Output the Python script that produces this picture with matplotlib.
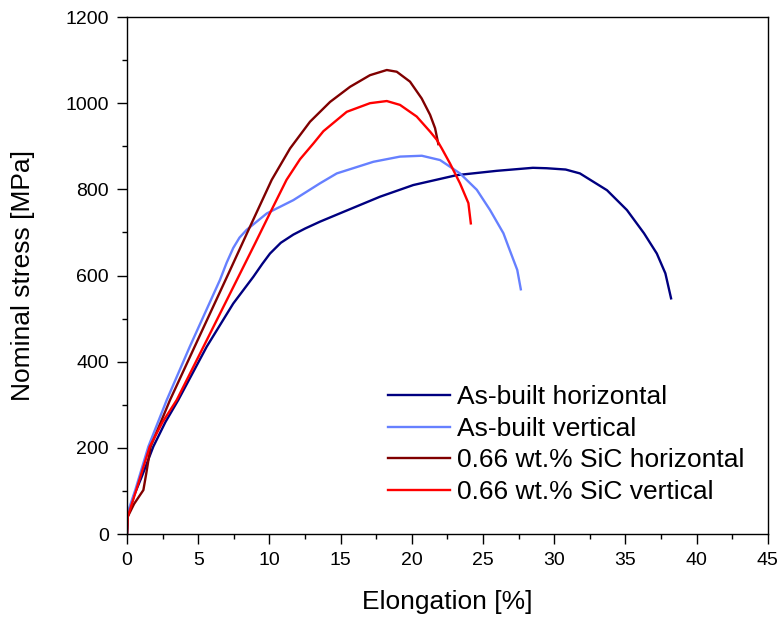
import matplotlib
matplotlib.use("Agg")
import matplotlib.pyplot as plt
from matplotlib.ticker import MultipleLocator

plt.rcParams['font.family'] = ['Liberation Sans', 'DejaVu Sans']

# As-built horizontal
ab_h_x = [0, 0.05, 0.5, 1, 1.85, 2.7, 3.6, 5.6, 7.46, 8.87, 9.5, 10.04, 10.8,
          11.68, 12.5, 13.55, 15, 17.77, 20.1, 23.15, 25.96, 28.5, 29.47, 30.8,
          31.8, 33.7, 35.1, 36.3, 37.2, 37.8, 38.2]
ab_h_y = [0, 40, 90, 130, 203, 260, 311, 435, 535, 597, 627, 651, 676,
          695, 709, 725, 745, 783, 810, 833, 843, 850, 849, 846,
          837, 798, 752, 698, 651, 605, 547]

# As-built vertical
ab_v_x = [0, 0.05, 0.58, 1.5, 2.79, 4.41, 6.53, 7.0, 7.46, 7.9, 8.4, 9.81, 11.68,
          13.55, 14.73, 17.3, 19.17, 20.7, 21.98, 23.38, 24.56, 25.49, 26.43,
          26.78, 27.4, 27.65]
ab_v_y = [0, 50, 102, 203, 311, 435, 590, 630, 664, 688, 706, 744, 775,
          814, 837, 864, 876, 878, 868, 837, 799, 752, 698,
          667, 613, 568]

# 0.66 wt.% SiC horizontal
sic_h_x = [0, 0.05, 0.5, 1.15, 1.35, 1.66, 3.02, 5.13, 7.23, 8.52, 10.16, 11.45,
           12.85, 14.26, 15.66, 17.06, 18.24, 18.94, 19.87, 20.69, 21.28, 21.63,
           21.86]
sic_h_y = [0, 40, 70, 102, 140, 203, 311, 462, 612, 705, 822, 895,
           957, 1003, 1038, 1065, 1077, 1073, 1050, 1011, 973, 942,
           905]

# 0.66 wt.% SiC vertical
sic_v_x = [0, 0.05, 0.65, 1.6, 2.5, 3.49, 5.6, 7.46, 9, 10.04, 11.2, 12.15,
           13.1, 13.79, 15.43, 17.06, 18.24, 19.17, 20.34, 21.28, 21.75, 22.1,
           22.68, 23.38, 23.97, 24.14]
sic_v_y = [0, 40, 102, 203, 260, 311, 450, 573, 675, 745, 822, 870,
           907, 935, 980, 1000, 1005, 996, 969, 934, 915, 895,
           860, 814, 768, 721]

fig = plt.figure(figsize=(7.82, 6.19), dpi=100)
ax = fig.add_axes([0.1624, 0.1373, 0.8196, 0.8352])

lw = 1.7
ax.plot(ab_h_x, ab_h_y, color='#000080', lw=lw, label='As-built horizontal')
ax.plot(ab_v_x, ab_v_y, color='#6680ff', lw=lw, label='As-built vertical')
ax.plot(sic_h_x, sic_h_y, color='#800000', lw=lw, label='0.66 wt.% SiC horizontal')
ax.plot(sic_v_x, sic_v_y, color='#ff0000', lw=lw, label='0.66 wt.% SiC vertical')

ax.set_xlim(0, 45)
ax.set_ylim(0, 1200)
ax.xaxis.set_major_locator(MultipleLocator(5))
ax.xaxis.set_minor_locator(MultipleLocator(2.5))
ax.yaxis.set_major_locator(MultipleLocator(200))
ax.yaxis.set_minor_locator(MultipleLocator(100))
ax.tick_params(which='both', direction='out', labelsize=14, width=1, pad=6)
ax.tick_params(which='major', length=7)
ax.tick_params(which='minor', length=3.5)
for s in ax.spines.values():
    s.set_linewidth(1)

ax.set_xlabel('Elongation [%]', fontsize=19, labelpad=15)
ax.set_ylabel('Nominal stress [MPa]', fontsize=19, labelpad=22)

ax.legend(loc='upper left', bbox_to_anchor=(0.407, 0.288), frameon=False,
          fontsize=19, handlelength=2.35, handletextpad=0.27, labelspacing=0.29,
          borderpad=0, borderaxespad=0)

fig.savefig('out.png', dpi=100)
